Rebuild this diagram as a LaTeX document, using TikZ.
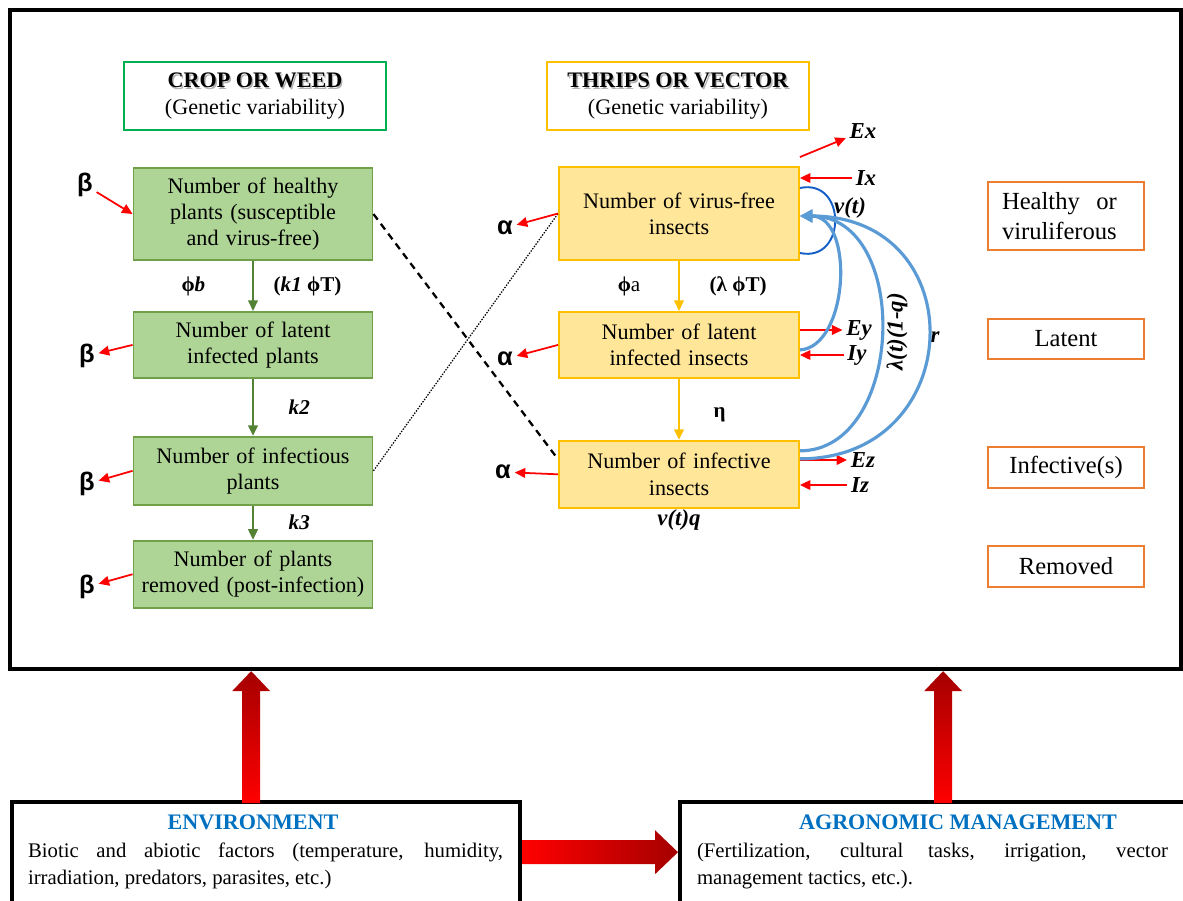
\documentclass[tikz,border=0pt]{standalone}
\usepackage{fontspec}
\setmainfont{Liberation Serif}
\newfontfamily\sansgreek{Liberation Sans}
\usepackage{tikz}
\usetikzlibrary{arrows.meta, positioning, calc}
\definecolor{plantfill}{RGB}{174,212,150}
\definecolor{plantline}{RGB}{112,160,72}
\definecolor{plantarrow}{RGB}{84,130,53}
\definecolor{insectfill}{RGB}{255,230,153}
\definecolor{insectline}{RGB}{255,192,0}
\definecolor{cropgreen}{RGB}{0,176,80}
\definecolor{stateline}{RGB}{237,125,49}
\definecolor{flowblue}{RGB}{91,155,213}
\definecolor{loopblue}{RGB}{20,95,200}
\definecolor{titleblue}{RGB}{0,112,192}
\definecolor{fatred}{RGB}{255,0,0}
\definecolor{fatdark}{RGB}{165,0,0}

\newcommand{\shadowed}[1]{\makebox[0pt][l]{\hspace{0.8pt}\raisebox{-0.8pt}{\textcolor{black!30}{#1}}}#1}
\newcommand{\fatup}[2]{%
  \shade[bottom color=fatred, top color=fatdark]
    ([xshift=-0.18cm]#1) -- ([xshift=-0.18cm,yshift=-0.4cm]#2) -- ([xshift=-0.38cm,yshift=-0.4cm]#2)
    -- (#2) -- ([xshift=0.38cm,yshift=-0.4cm]#2) -- ([xshift=0.18cm,yshift=-0.4cm]#2)
    -- ([xshift=0.18cm]#1) -- cycle;}
\newcommand{\fatright}[2]{%
  \shade[left color=fatred, right color=fatdark]
    ([yshift=0.24cm]#1) -- ([xshift=-0.46cm,yshift=0.24cm]#2) -- ([xshift=-0.46cm,yshift=0.44cm]#2)
    -- (#2) -- ([xshift=-0.46cm,yshift=-0.44cm]#2) -- ([xshift=-0.46cm,yshift=-0.24cm]#2)
    -- ([yshift=-0.24cm]#1) -- cycle;}

\begin{document}
\begin{tikzpicture}[x=0.02cm,y=-0.02cm,node distance=1cm,>={Triangle[length=6pt,width=5.5pt]},
  font=\fontsize{12.6}{15}\selectfont]

	\tikzset{plant/.style={draw=plantline, line width=1.1pt, fill=plantfill,
			text width=4.6cm, inner xsep=0.09cm, align=center}}
	\tikzset{insect/.style={draw=insectline, line width=1.1pt, fill=insectfill,
			text width=4.6cm, inner xsep=0.1cm, align=center}}
	\tikzset{header/.style={line width=1.1pt, minimum width=5.24cm, minimum height=1.36cm, align=center}}
	\tikzset{state box/.style={draw=stateline, line width=1.1pt, text width=2.56cm, inner xsep=0.28cm,
			inner ysep=2pt, font=\fontsize{14}{17}\selectfont}}
	\tikzset{rate/.style={text=black, font=\fontsize{12}{14}\selectfont\bfseries, inner sep=1pt}}
	\tikzset{flux/.style={font=\fontsize{13}{15}\selectfont\bfseries\itshape, inner sep=2pt}}
	\tikzset{mort/.style={font=\sansgreek\bfseries\fontsize{14.5}{16}\selectfont, inner sep=2pt}}
	\tikzset{red arrow/.style={->, red, line width=1pt}}
	\tikzset{plant arrow/.style={->, plantarrow, line width=1.1pt}}
	\tikzset{insect arrow/.style={->, insectline, line width=1.1pt}}
	\tikzset{flow/.style={-{Triangle[length=7pt,width=7pt]}, flowblue, line width=1.8pt}}
	\tikzset{outer box/.style={draw, line width=2.5pt, inner sep=0}}
	\tikzset{bottom title/.style={font=\fontsize{12.6}{15}\selectfont\bfseries, text=titleblue, inner sep=1pt}}
	\tikzset{bottom text/.style={font=\fontsize{11.8}{15.3}\selectfont, text width=9.5cm, align=justify, inner sep=0}}

	\useasboundingbox (0,0) rectangle (1183,900);
	\clip (0,0) rectangle (1183,900);

	\node[outer box, minimum width=23.42cm, minimum height=13.18cm] (main) at (595.5,339.5) {};

	\node[header, draw=cropgreen] (crop) at (255,96) {\shadowed{\textbf{CROP OR WEED}}\\(Genetic variability)};
	\node[header, draw=insectline] (thrips) at (678,96) {\shadowed{\textbf{THRIPS OR VECTOR}}\\(Genetic variability)};

	% plants
	\node[plant, minimum height=1.84cm] (H) at (253,214) {Number of healthy\\plants (susceptible\\and virus-free)};
	\node[plant, minimum height=1.32cm, below=1cm of H] (L) {Number of latent\\infected plants};
	\node[plant, minimum height=1.36cm, below=1.14cm of L] (I) {Number of infectious\\plants};
	\node[plant, minimum height=1.34cm, below=0.68cm of I] (R) {Number of plants\\removed (post-infection)};

	% insects
	\node[insect, minimum height=1.86cm] (VF) at (679,213.5) {Number of virus-free\\insects};
	\node[insect, minimum height=1.32cm, below=1cm of VF] (VL) {Number of latent\\infected insects};
	\node[insect, minimum height=1.34cm, below=1.22cm of VL] (VI) {Number of infective\\insects};

	\node[state box, align=left, minimum height=1.36cm] (S1) at (1066,216) {Healthy\ \ or\\viruliferous};
	\node[state box, align=center, minimum height=0.8cm] (S2) at (1066,339) {Latent};
	\node[state box, align=center, minimum height=0.82cm] (S3) at (1066,467.5) {Infective(s)};
	\node[state box, align=center, minimum height=0.82cm] (S4) at (1066,566.5) {Removed};

	\node[mort] (b1) at (85,185) {β};
	\node[mort] (b2) at (87,356) {β};
	\node[mort] (b3) at (87,484) {β};
	\node[mort] (b4) at (87,587) {β};
	\node[mort] (a1) at (505,228) {α};
	\node[mort] (a2) at (505,359) {α};
	\node[mort] (a3) at (503,472) {α};

	\node[flux] (Ex) at (863,131) {Ex};
	\node[flux] (Ix) at (866,178) {Ix};
	\node[flux] (Ey) at (859,330) {Ey};
	\node[flux] (Iy) at (857,355) {Iy};
	\node[flux] (Ez) at (863,460) {Ez};
	\node[flux] (Iz) at (860,485) {Iz};
	\node[flux] (vt) at (850,208) {v(t)};
	\node[flux, rotate=90] (lam) at (897,332) {λ(t)(1-q)};
	\node[flux] (r) at (935,337) {r};
	\node[flux, below=-0.05cm of VI] (vq) {v(t)q};

	\draw[plant arrow] (H) -- node[rate, left=0.9cm] {ϕ\textit{b}} node[rate, right=0.36cm] {(\textit{k1} ϕT)} (L);
	\draw[plant arrow] (L) -- node[rate, right=0.66cm] {\textit{k2}} (I);
	\draw[plant arrow] (I) -- node[rate, right=0.66cm] {\textit{k3}} (R);
	\draw[insect arrow] (VF) -- node[rate, left=0.72cm] {ϕ{\mdseries a}} node[rate, right=0.56cm] {(λ ϕT)} (VL);
	\draw[insect arrow] (VL) -- node[rate, right=0.64cm, yshift=-0.1cm] {η} (VI);

	\draw[dash pattern=on 4pt off 3pt, line width=1.3pt] (H.east) -- ([yshift=0.3cm]VI.west);
	\draw[dash pattern=on 0.8pt off 0.8pt, line width=0.7pt] (I.east) -- (VF.west);

	\draw[red arrow] (b1) -- (H.west);
	\draw[red arrow] (L.west) -- (b2);
	\draw[red arrow] (I.west) -- (b3);
	\draw[red arrow] (R.west) -- (b4);
	\draw[red arrow] (VF.west) -- (a1);
	\draw[red arrow] (VL.west) -- (a2);
	\draw[red arrow] (VI.west) -- (a3);

	\draw[red arrow] ([yshift=0.18cm]VF.north east) -- (Ex);
	\draw[red arrow] (Ix) -- (Ix -| VF.east);
	\draw[red arrow] (Ey -| VL.east) -- (Ey);
	\draw[red arrow] (Iy) -- (Iy -| VL.east);
	\draw[red arrow] (Ez -| VI.east) -- (Ez);
	\draw[red arrow] (Iz) -- (Iz -| VI.east);

	\draw[loopblue, line width=1.1pt] ([yshift=0.51cm]VF.east) .. controls +(47,-10) and +(47,10) .. ([yshift=-0.79cm]VF.east);
	\draw[flow] ([yshift=-0.1cm]VL.east) .. controls +(49,-3) and +(55,0) .. ([yshift=-0.05cm]VF.east);
	\draw[flow] ([yshift=0.47cm]VI.east) .. controls +(105,0) and +(112,0) .. ([yshift=-0.05cm]VF.east);
	\draw[flow] ([yshift=0.31cm]VI.east) .. controls +(168,0) and +(175,0) .. ([yshift=-0.05cm]VF.east);

	% drivers
	\node[outer box, anchor=north west, minimum width=10.16cm, minimum height=2.2cm] (env) at (10,800) {};
	\node[outer box, anchor=north west, minimum width=10.4cm, minimum height=2.2cm] (agro) at (678,800) {};
	\node[bottom title] (envtitle) at (253,822) {ENVIRONMENT};
	\node[bottom text] (envtext) at (265.5,866) {Biotic and abiotic factors (temperature, humidity,\linebreak irradiation, predators, parasites, etc.)};
	\node[bottom title] (agrotitle) at (958,822) {AGRONOMIC MANAGEMENT};
	\node[bottom text, text width=9.42cm] (agrotext) at (932.5,866) {(Fertilization, cultural tasks, irrigation, vector\linebreak management tactics, etc.).};

	\coordinate (envup) at ([xshift=-0.3cm,yshift=-0.06cm]env.north);
	\coordinate (envtip) at (envup |- main.south);
	\coordinate (agroup) at ([xshift=0.06cm,yshift=-0.06cm]agro.north);
	\coordinate (agrotip) at (agroup |- main.south);
	\coordinate (envout) at ([yshift=0.1cm]env.east);
	\coordinate (agroin) at (envout -| agro.west);
	\fatup{envup}{envtip}
	\fatup{agroup}{agrotip}
	\fatright{envout}{agroin}
\end{tikzpicture}
\end{document}
